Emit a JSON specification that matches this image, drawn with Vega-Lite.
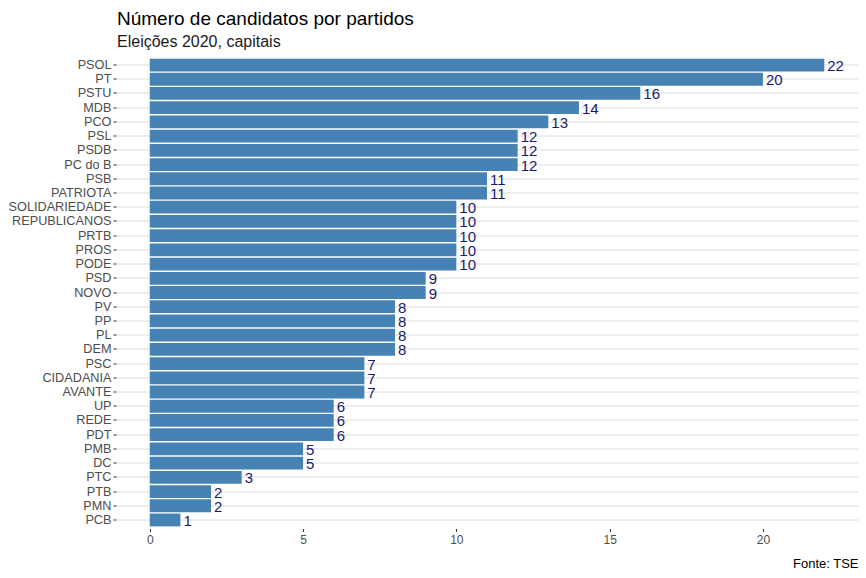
{
  "$schema": "https://vega.github.io/schema/vega-lite/v6.json",
  "autosize": {"type": "none"},
  "width": 742,
  "height": 472,
  "padding": {"left": 116, "top": 56.5, "right": 8, "bottom": 49.5},
  "background": "white",
  "config": {
    "font": "Liberation Sans",
    "view": {"stroke": null}
  },
  "title": {
    "text": "Número de candidatos por partidos",
    "subtitle": "Eleições 2020, capitais",
    "anchor": "start",
    "frame": "group",
    "fontSize": 19,
    "fontWeight": "normal",
    "color": "black",
    "subtitleFontSize": 16,
    "subtitleColor": "#1a1a1a",
    "subtitlePadding": 5,
    "offset": 7,
    "dx": 1
  },
  "data": {
    "values": [
      {"partido": "PSOL", "n": 22},
      {"partido": "PT", "n": 20},
      {"partido": "PSTU", "n": 16},
      {"partido": "MDB", "n": 14},
      {"partido": "PCO", "n": 13},
      {"partido": "PSL", "n": 12},
      {"partido": "PSDB", "n": 12},
      {"partido": "PC do B", "n": 12},
      {"partido": "PSB", "n": 11},
      {"partido": "PATRIOTA", "n": 11},
      {"partido": "SOLIDARIEDADE", "n": 10},
      {"partido": "REPUBLICANOS", "n": 10},
      {"partido": "PRTB", "n": 10},
      {"partido": "PROS", "n": 10},
      {"partido": "PODE", "n": 10},
      {"partido": "PSD", "n": 9},
      {"partido": "NOVO", "n": 9},
      {"partido": "PV", "n": 8},
      {"partido": "PP", "n": 8},
      {"partido": "PL", "n": 8},
      {"partido": "DEM", "n": 8},
      {"partido": "PSC", "n": 7},
      {"partido": "CIDADANIA", "n": 7},
      {"partido": "AVANTE", "n": 7},
      {"partido": "UP", "n": 6},
      {"partido": "REDE", "n": 6},
      {"partido": "PDT", "n": 6},
      {"partido": "PMB", "n": 5},
      {"partido": "DC", "n": 5},
      {"partido": "PTC", "n": 3},
      {"partido": "PTB", "n": 2},
      {"partido": "PMN", "n": 2},
      {"partido": "PCB", "n": 1}
    ]
  },
  "encoding": {
    "y": {
      "field": "partido",
      "type": "nominal",
      "sort": null,
      "scale": {"paddingInner": 0.1, "paddingOuter": 0.15},
      "axis": {
        "title": null,
        "domain": false,
        "ticks": true,
        "tickSize": 3,
        "tickColor": "#333333",
        "labelPadding": 2,
        "labelFontSize": 12.7,
        "labelColor": "#4d4d4d",
        "grid": true,
        "gridColor": "#dcdcdc",
        "gridWidth": 1
      }
    },
    "x": {
      "field": "n",
      "type": "quantitative",
      "scale": {"domain": [-1.1, 23.1], "nice": false, "zero": false},
      "axis": {
        "values": [0, 5, 10, 15, 20],
        "domain": false,
        "grid": false,
        "ticks": true,
        "tickSize": 3,
        "tickColor": "#333333",
        "labelPadding": 3,
        "labelFontSize": 12,
        "labelColor": "#4d4d4d",
        "title": "Fonte: TSE",
        "titleAnchor": "end",
        "titleAlign": "right",
        "titleFontSize": 13,
        "titleFontWeight": "normal",
        "titleColor": "black",
        "titlePadding": 12
      }
    }
  },
  "layer": [
    {
      "mark": {"type": "bar", "color": "#4682b4"},
      "encoding": {
        "x": {"field": "n", "type": "quantitative"},
        "x2": {"datum": 0}
      }
    },
    {
      "mark": {"type": "text", "align": "left", "baseline": "middle", "dx": 3, "dy": 1, "fontSize": 15, "color": "#191970"},
      "encoding": {
        "text": {"field": "n", "type": "quantitative"}
      }
    }
  ]
}
